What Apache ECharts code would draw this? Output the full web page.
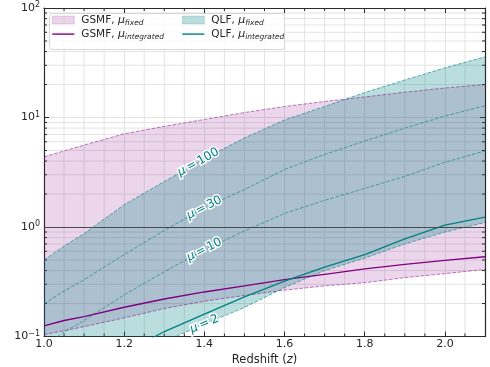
<!DOCTYPE html>
<html>
<head>
<meta charset="utf-8">
<script src="https://cdn.jsdelivr.net/npm/echarts@6/dist/echarts.min.js"></script>
<style>
html, body { margin: 0; padding: 0; background: #fff; }
#chart { width: 490px; height: 367px; }
</style>
</head>
<body>
<div id="chart"></div>
<script>
// redshift samples and the curves
const redshift = [1.0, 1.05, 1.1, 1.2, 1.3, 1.4, 1.5, 1.6, 1.7, 1.8, 1.9, 2.0, 2.1];
const gsmfFixedHigh = [4.37, 4.95, 5.6, 7.1, 8.3, 9.6, 11.1, 12.6, 14.0, 15.4, 17.0, 18.6, 20.0];
const gsmfFixedLow = [0.104, 0.113, 0.123, 0.148, 0.18, 0.21, 0.237, 0.265, 0.29, 0.31, 0.345, 0.375, 0.41];
const gsmfIntegrated = [0.125, 0.14, 0.152, 0.185, 0.22, 0.255, 0.29, 0.33, 0.37, 0.415, 0.455, 0.495, 0.535];
const qlfMu100 = [0.5, 0.67, 0.87, 1.6, 2.6, 4.2, 6.5, 9.5, 12.6, 16.9, 22.0, 28.4, 35.8];
const qlfMu30 = [0.199, 0.26, 0.33, 0.56, 0.93, 1.5, 2.2, 3.35, 4.6, 6.1, 8.0, 10.3, 12.8];
const qlfMu10 = [0.082, 0.11, 0.14, 0.24, 0.39, 0.62, 0.92, 1.33, 1.75, 2.25, 2.9, 3.9, 4.95];
const qlfMu2 = [0.025, 0.03, 0.038, 0.058, 0.09, 0.13, 0.184, 0.28, 0.4, 0.52, 0.7, 0.9, 1.1];
const qlfIntegrated = [0.03, 0.037, 0.045, 0.07, 0.111, 0.16, 0.23, 0.32, 0.43, 0.56, 0.78, 1.04, 1.23];

// contour labels
const contourLabels = ['100', '30', '10', '2'];
const contourCurves = [qlfMu100, qlfMu30, qlfMu10, qlfMu2];
const contourLabelZ = [1.385, 1.40, 1.40, 1.40];

const zMin = 1.0, zMax = 2.1;
const yMin = 0.1, yMax = 100;
const unityLevel = 1;

const purple = '#800080';
const teal = '#008080';
const pinkFill = 'rgba(128,0,128,0.16)';
const tealFill = 'rgba(0,128,128,0.27)';
const gridColor = '#e3e3e3';
const frameColor = '#2a2a2a';
const font = 'DejaVu Sans';
const lineIcon = 'path://M0,0L22,0L22,1.4L0,1.4Z';

// minor tick positions
const xMinor = [];
for (let k = 21; k < 42; k++) { if (k % 4 !== 0) xMinor.push(k * 0.05); }
const yMinor = [];
[0.1, 1, 10].forEach(d => { for (let m = 2; m <= 9; m++) yMinor.push(+(m * d).toPrecision(3)); });

const pairs = arr => redshift.map((z, i) => [z, arr[i]]);

const valueAt = (curve, z) => {
    for (let i = 0; i < redshift.length - 1; i++) {
        if (z >= redshift[i] && z <= redshift[i + 1]) {
            const t = (z - redshift[i]) / (redshift[i + 1] - redshift[i]);
            return Math.pow(10, Math.log10(curve[i]) * (1 - t) + Math.log10(curve[i + 1]) * t);
        }
    }
    return curve[curve.length - 1];
};

const clipRect = params => ({
    type: 'rect',
    shape: { x: params.coordSys.x, y: params.coordSys.y, width: params.coordSys.width, height: params.coordSys.height }
});

const bandSeries = (name, high, low, fill, edge) => ({
    name,
    type: 'custom',
    z: 1,
    silent: true,
    itemStyle: { color: fill, borderColor: edge },
    data: [[redshift[0], high[0]]],
    renderItem: (params, api) => {
        const pts = [];
        redshift.forEach((z, i) => pts.push(api.coord([z, high[i]])));
        for (let i = redshift.length - 1; i >= 0; i--) pts.push(api.coord([redshift[i], low[i]]));
        return {
            type: 'polygon',
            shape: { points: pts },
            style: { fill: fill },
            clipPath: clipRect(params)
        };
    }
});

const dashedLine = (name, arr, color) => ({
    name,
    type: 'line',
    z: 2,
    data: pairs(arr),
    symbol: 'none',
    silent: true,
    lineStyle: { color, width: 1, type: [3.7, 1.6] }
});

const chart = echarts.init(document.getElementById('chart'));

const legendText = {
    symbolKeepAspect: true,
    formatter: name => {
        const parts = name.split(' ');
        return '{n|' + parts[0] + ', }{m|μ}{s|' + parts[1] + '}';
    },
    textStyle: {
        rich: {
            n: { fontFamily: font, fontSize: 10.5, color: '#262626', lineHeight: 14, padding: [0, 0, 0, 2] },
            m: { fontFamily: font, fontSize: 11, fontStyle: 'italic', color: '#262626', lineHeight: 14 },
            s: { fontFamily: font, fontSize: 7.5, fontStyle: 'italic', color: '#262626', lineHeight: 9, verticalAlign: 'bottom' }
        }
    }
};

const option = {
    animation: false,
    grid: { left: 44, right: 5, top: 8, bottom: 30.5, outerBoundsMode: 'none', containLabel: false },
    graphic: [{
        type: 'rect',
        left: 49, top: 13, z: 3,
        shape: { width: 235, height: 36, r: 3 },
        style: { fill: 'rgba(255,255,255,0.8)', stroke: '#d6d6d6', lineWidth: 1 }
    }],
    legend: [
        Object.assign({
            left: 52, top: 14.5, orient: 'vertical', padding: 0, itemGap: 1.6,
            itemWidth: 22, itemHeight: 8, z: 4,
            data: [
                { name: 'GSMF fixed', icon: 'rect', itemStyle: { color: pinkFill, borderColor: 'rgba(128,0,128,0.25)', borderWidth: 0.6 } },
                { name: 'GSMF integrated', icon: lineIcon, itemStyle: { color: purple, borderWidth: 0 } }
            ]
        }, legendText),
        Object.assign({
            left: 182, top: 14.5, orient: 'vertical', padding: 0, itemGap: 1.6,
            itemWidth: 22, itemHeight: 8, z: 4,
            data: [
                { name: 'QLF fixed', icon: 'rect', itemStyle: { color: tealFill, borderColor: 'rgba(0,128,128,0.3)', borderWidth: 0.6 } },
                { name: 'QLF integrated', icon: lineIcon, itemStyle: { color: teal, borderWidth: 0 } }
            ]
        }, legendText)
    ],
    xAxis: [{
        type: 'value', min: zMin, max: zMax, interval: 0.2,
        name: 'Redshift ({i|z})', nameLocation: 'middle', nameGap: 11,
        nameTextStyle: {
            fontFamily: font, fontSize: 11.5, color: '#262626',
            rich: { i: { fontFamily: font, fontSize: 11.5, fontStyle: 'italic', color: '#262626' } }
        },
        axisLine: { show: true, onZero: false, lineStyle: { color: frameColor, width: 1.2 } },
        axisTick: { inside: true, length: 5, lineStyle: { color: frameColor } },
        axisLabel: {
            showMaxLabel: false, margin: 2, fontFamily: font, fontSize: 11, color: '#262626',
            formatter: v => v.toFixed(1)
        },
        splitLine: { show: true, lineStyle: { color: gridColor, width: 1 } }
    }, {
        type: 'value', min: zMin, max: zMax, interval: 0.2, position: 'top',
        axisLine: { show: true, onZero: false, lineStyle: { color: frameColor, width: 1.2 } },
        axisTick: { inside: true, length: 5, lineStyle: { color: frameColor } },
        axisLabel: { show: false },
        splitLine: { show: false }
    }],
    yAxis: [{
        type: 'log', logBase: 10, min: yMin, max: yMax,
        name: 'Cumulative Detectable Lensed SMBHBs', nameLocation: 'middle', nameGap: 31,
        nameTextStyle: { fontFamily: font, fontSize: 11.5, color: '#262626' },
        axisLine: { show: true, onZero: false, lineStyle: { color: frameColor, width: 1.2 } },
        axisTick: { inside: true, length: 5, lineStyle: { color: frameColor } },
        axisLabel: {
            margin: 4,
            formatter: v => {
                const e = Math.round(Math.log10(v));
                return '{b|10}{s|' + (e < 0 ? '\u2212' + (-e) : e) + '}';
            },
            rich: {
                b: { fontFamily: font, fontSize: 11, color: '#262626', lineHeight: 14 },
                s: { fontFamily: font, fontSize: 8, color: '#262626', lineHeight: 6, verticalAlign: 'top' }
            }
        },
        splitLine: { show: true, lineStyle: { color: gridColor, width: 1 } }
    }, {
        type: 'log', logBase: 10, min: yMin, max: yMax, position: 'right',
        axisLine: { show: true, onZero: false, lineStyle: { color: frameColor, width: 1.2 } },
        axisTick: { inside: true, length: 5, lineStyle: { color: frameColor } },
        axisLabel: { show: false },
        splitLine: { show: false }
    }],
    series: [
        {
            // vertical minor grid lines and minor ticks on bottom and top
            type: 'custom', z: 0, silent: true,
            data: xMinor.map(v => [v, yMin]),
            renderItem: (params, api) => {
                const v = api.value(0);
                const b = api.coord([v, yMin]);
                const t = api.coord([v, yMax]);
                return {
                    type: 'group',
                    children: [
                        { type: 'line', shape: { x1: b[0], y1: b[1], x2: t[0], y2: t[1] }, style: { stroke: gridColor, lineWidth: 1 } },
                        { type: 'line', shape: { x1: b[0], y1: b[1], x2: b[0], y2: b[1] - 3 }, style: { stroke: frameColor, lineWidth: 1 } },
                        { type: 'line', shape: { x1: t[0], y1: t[1], x2: t[0], y2: t[1] + 3 }, style: { stroke: frameColor, lineWidth: 1 } }
                    ]
                };
            }
        },
        {
            // horizontal minor grid lines and minor ticks on left and right
            type: 'custom', z: 0, silent: true,
            data: yMinor.map(v => [zMin, v]),
            renderItem: (params, api) => {
                const v = api.value(1);
                const l = api.coord([zMin, v]);
                const r = api.coord([zMax, v]);
                return {
                    type: 'group',
                    children: [
                        { type: 'line', shape: { x1: l[0], y1: l[1], x2: r[0], y2: r[1] }, style: { stroke: gridColor, lineWidth: 1 } },
                        { type: 'line', shape: { x1: l[0], y1: l[1], x2: l[0] + 3, y2: l[1] }, style: { stroke: frameColor, lineWidth: 1 } },
                        { type: 'line', shape: { x1: r[0], y1: r[1], x2: r[0] - 3, y2: r[1] }, style: { stroke: frameColor, lineWidth: 1 } }
                    ]
                };
            }
        },
        bandSeries('GSMF fixed', gsmfFixedHigh, gsmfFixedLow, pinkFill, purple),
        bandSeries('QLF fixed', qlfMu100, qlfMu2, tealFill, teal),
        dashedLine('gsmf high', gsmfFixedHigh, 'rgba(128,0,128,0.5)'),
        dashedLine('gsmf low', gsmfFixedLow, 'rgba(128,0,128,0.5)'),
        dashedLine('mu100', qlfMu100, 'rgba(0,128,128,0.6)'),
        dashedLine('mu30', qlfMu30, 'rgba(0,128,128,0.6)'),
        dashedLine('mu10', qlfMu10, 'rgba(0,128,128,0.6)'),
        dashedLine('mu2', qlfMu2, 'rgba(0,128,128,0.6)'),
        {
            name: 'GSMF integrated', type: 'line', z: 3, symbol: 'none', silent: true,
            data: pairs(gsmfIntegrated),
            itemStyle: { color: purple },
            lineStyle: { color: purple, width: 1.3 },
            markLine: {
                silent: true, symbol: 'none', label: { show: false },
                lineStyle: { color: '#4a4a4a', width: 1.2, type: 'solid' },
                data: [{ yAxis: unityLevel }]
            }
        },
        {
            name: 'QLF integrated', type: 'line', z: 3, symbol: 'none', silent: true,
            data: pairs(qlfIntegrated),
            itemStyle: { color: teal },
            lineStyle: { color: teal, width: 1.3 }
        },
        {
            // inline contour labels
            type: 'custom', z: 5, silent: true,
            data: contourLabelZ.map((z, i) => [z, valueAt(contourCurves[i], z)]),
            renderItem: (params, api) => {
                const i = params.dataIndex;
                const z = api.value(0);
                const curve = contourCurves[i];
                const p = api.coord([z, api.value(1)]);
                const p1 = api.coord([z - 0.04, valueAt(curve, z - 0.04)]);
                const p2 = api.coord([z + 0.04, valueAt(curve, z + 0.04)]);
                const ang = Math.atan2(-(p2[1] - p1[1]), p2[0] - p1[0]);
                const tok = { fill: teal, stroke: '#fff', lineWidth: 3, fontFamily: font, fontSize: 12 };
                return {
                    type: 'text', x: p[0], y: p[1], rotation: ang,
                    style: {
                        text: '{m|μ}{n|\u2009=\u2009' + contourLabels[i] + '}',
                        align: 'center', verticalAlign: 'middle',
                        fill: teal, stroke: '#fff', lineWidth: 3, fontFamily: font, fontSize: 12,
                        rich: {
                            m: Object.assign({ fontStyle: 'italic' }, tok),
                            n: tok
                        }
                    }
                };
            }
        }
    ]
};

chart.setOption(option);
</script>
</body>
</html>
